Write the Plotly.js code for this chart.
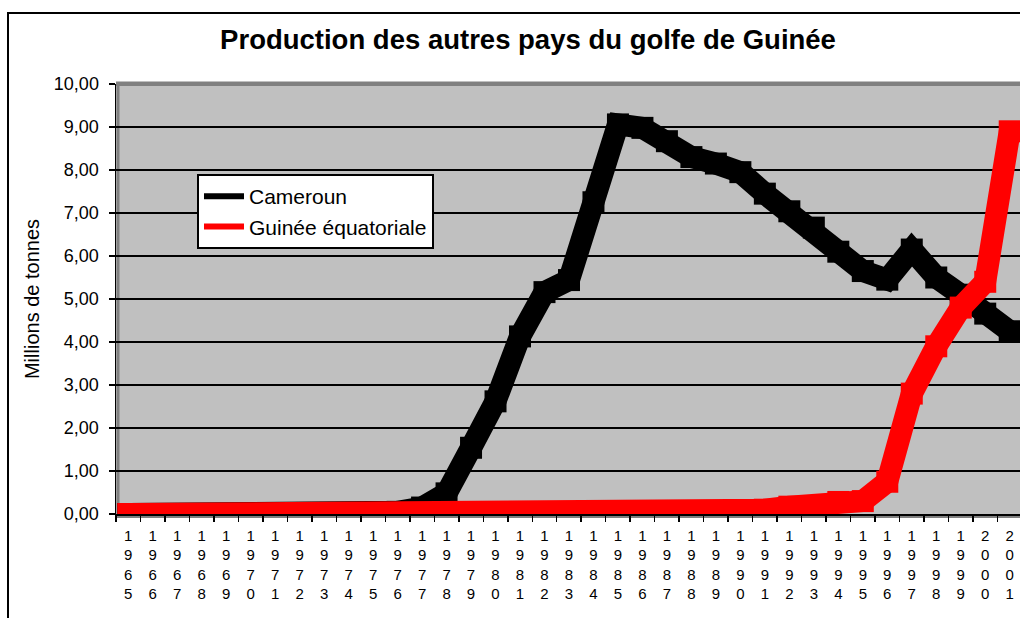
<!DOCTYPE html>
<html>
<head>
<meta charset="utf-8">
<script src="https://cdn.plot.ly/plotly-3.0.1.min.js"></script>
<style>
  html, body { margin: 0; padding: 0; background: #ffffff; }
  #chart { width: 1020px; height: 618px; }
</style>
</head>
<body>
<div id="chart"></div>
<script>
// ---- Data ----
const years = ["1965","1966","1967","1968","1969","1970","1971","1972","1973","1974",
  "1975","1976","1977","1978","1979","1980","1981","1982","1983","1984",
  "1985","1986","1987","1988","1989","1990","1991","1992","1993","1994",
  "1995","1996","1997","1998","1999","2000","2001"];

const cameroun = [0, 0, 0, 0, 0, 0, 0, 0, 0, 0,
  0, 0.05, 0.15, 0.48, 1.54, 2.62, 4.13, 5.16, 5.44, 7.25,
  9.06, 8.98, 8.67, 8.30, 8.15, 7.95, 7.45, 7.04, 6.66, 6.10,
  5.65, 5.45, 6.15, 5.50, 5.10, 4.66, 4.25];

const guinee = [0, 0, 0, 0, 0, 0, 0, 0, 0, 0,
  0, 0, 0, 0, 0, 0, 0, 0, 0, 0,
  0, 0, 0, 0, 0, 0, 0.10, 0.17, 0.18, 0.28,
  0.30, 0.75, 2.80, 3.90, 4.80, 5.40, 8.90];

const seriesNames = ["Cameroun", "Guinée équatoriale"];
const tickLabels = years.map(y => y.split("").join("<br>"));

// ---- Geometry helpers (pixel -> paper), plot area: x 116..1020, y 84..514 ----
const PL = 116, PW = 904, PT = 84, PH = 430;
const px = v => (v - PL) / PW;
const py = v => (PT + PH - v) / PH;

const FONT = "Liberation Sans, Arial, Helvetica, sans-serif";
const BAND = 22;

const traces = [
  { x: years, y: cameroun, type: "scatter", mode: "lines+markers", name: seriesNames[0],
    showlegend: false, hoverinfo: "skip",
    line: { color: "#000000", width: BAND },
    marker: { symbol: "square", size: BAND, color: "#000000", line: { width: 0 } } },
  { x: years, y: guinee, type: "scatter", mode: "lines+markers", name: seriesNames[1],
    showlegend: false, hoverinfo: "skip",
    line: { color: "#ff0000", width: BAND },
    marker: { symbol: "square", size: BAND, color: "#ff0000", line: { width: 0 } } },
  // legend entries
  { x: [null], y: [null], type: "scatter", mode: "lines", name: seriesNames[0],
    line: { color: "#000000", width: 6 } },
  { x: [null], y: [null], type: "scatter", mode: "lines", name: seriesNames[1],
    line: { color: "#ff0000", width: 6 } }
];

const layout = {
  width: 1020, height: 618,
  margin: { l: PL, r: 0, t: PT, b: 618 - PT - PH, pad: 0 },
  paper_bgcolor: "#ffffff",
  plot_bgcolor: "#c0c0c0",
  separators: ", ",
  font: { family: FONT, color: "#000000" },
  title: {
    text: "Production des autres pays du golfe de Guinée",
    font: { family: FONT, size: 27.5, weight: "bold", color: "#000000" },
    xref: "container", x: 528 / 1020, xanchor: "center",
    yref: "container", y: 1 - 39 / 618, yanchor: "middle"
  },
  xaxis: {
    type: "category",
    categoryorder: "array", categoryarray: years,
    range: [-0.5, 36.42],
    tickmode: "array", tickvals: years, ticktext: tickLabels,
    tickson: "boundaries",
    ticks: "outside", ticklen: 6, tickwidth: 1.5, tickcolor: "#000000",
    ticklabelstandoff: 7,
    showgrid: false, zeroline: false,
    showline: true, linecolor: "#000000", linewidth: 1.5,
    tickfont: { family: FONT, size: 15, color: "#000000" },
    fixedrange: true
  },
  yaxis: {
    range: [0, 10], dtick: 1, tick0: 0,
    tickformat: ".2f",
    ticks: "outside", ticklen: 6, tickwidth: 1.5, tickcolor: "#000000",
    ticklabelstandoff: 6,
    showgrid: true, gridcolor: "#000000", gridwidth: 1.2,
    zeroline: false,
    showline: true, linecolor: "#000000", linewidth: 1.5,
    tickfont: { family: FONT, size: 18, color: "#000000" },
    title: { text: "Millions de tonnes", font: { family: FONT, size: 20, color: "#000000" }, standoff: 9 },
    fixedrange: true
  },
  legend: {
    x: px(197), y: py(174), xanchor: "left", yanchor: "top",
    bgcolor: "#ffffff", bordercolor: "#000000", borderwidth: 2,
    font: { family: FONT, size: 21, color: "#000000" },
    tracegroupgap: 0, itemwidth: 40
  },
  shapes: [
    // 3D wall edges
    { type: "rect", xref: "paper", yref: "paper", x0: px(116.5), x1: px(119.5), y0: py(517), y1: py(82),
      fillcolor: "#808080", line: { width: 0 }, layer: "between" },
    { type: "rect", xref: "paper", yref: "paper", x0: px(116), x1: 1.01, y0: py(86), y1: py(81.5),
      fillcolor: "#808080", line: { width: 0 }, layer: "between" },
    { type: "rect", xref: "paper", yref: "paper", x0: px(116), x1: 1.01, y0: py(518), y1: py(514.5),
      fillcolor: "#808080", line: { width: 0 }, layer: "between" },
    // chart frame
    { type: "rect", xref: "paper", yref: "paper", x0: px(8), x1: px(1030), y0: py(640), y1: py(13),
      fillcolor: "rgba(0,0,0,0)", line: { color: "#000000", width: 2 }, layer: "above" }
  ]
};

Plotly.newPlot("chart", traces, layout, { staticPlot: true, displayModeBar: false });
</script>
</body>
</html>
